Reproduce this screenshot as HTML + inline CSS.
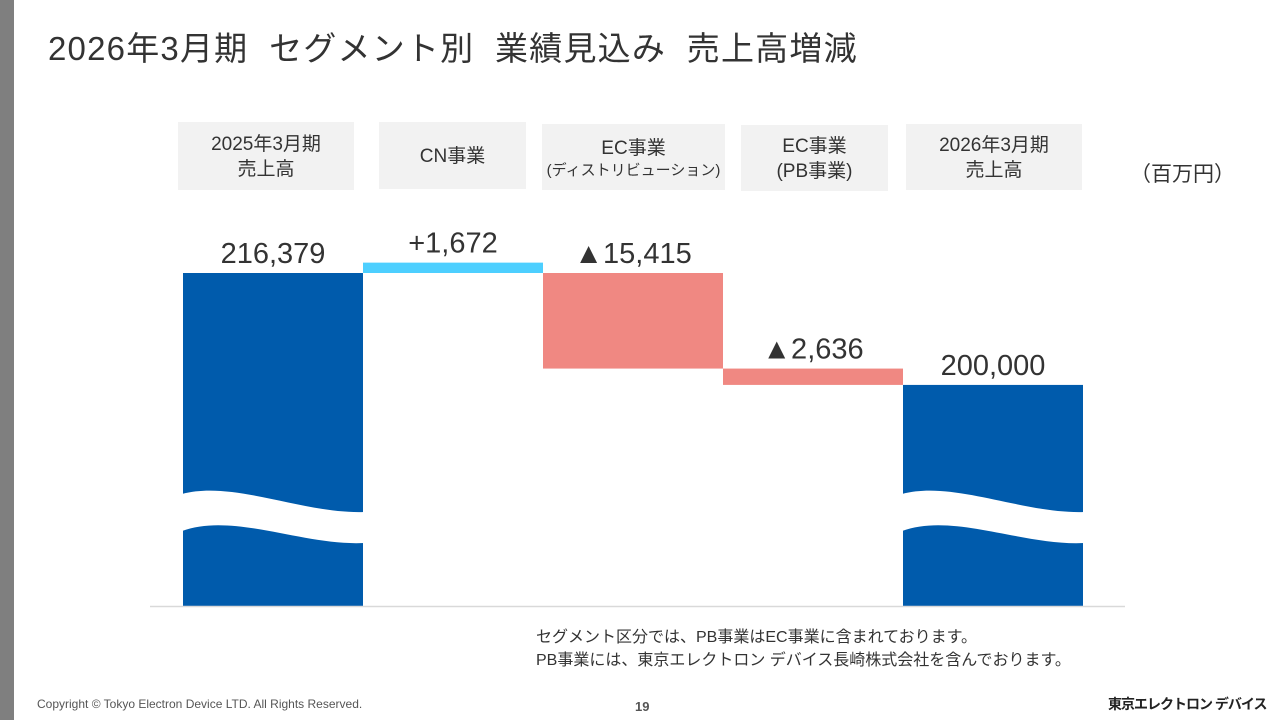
<!DOCTYPE html>
<html><head><meta charset="utf-8"><style>
body{margin:0;width:1280px;height:720px;background:#fff;position:relative;overflow:hidden;font-family:"Liberation Sans","Noto Sans CJK JP",sans-serif;color:#333}
.a{position:absolute}
.hd{position:absolute;background:#f2f2f2;display:flex;flex-direction:column;align-items:center;justify-content:center;font-size:19px;line-height:25px;color:#333;text-align:center;padding-top:2px;box-sizing:border-box}
</style></head><body>
<div class="a" style="left:0;top:0;width:14px;height:720px;background:#7f7f7f"></div>
<div class="a" style="left:48px;top:22px;font-size:33px;letter-spacing:1.2px;white-space:pre">2026年3月期  セグメント別  業績見込み  売上高増減</div>
<div class="hd" style="left:178px;top:122px;width:176px;height:68px">2025年3月期<br>売上高</div>
<div class="hd" style="left:379px;top:122px;width:147px;height:67px">CN事業</div>
<div class="hd" style="left:542px;top:124px;width:183px;height:66px">EC事業<span style="font-size:15px;line-height:20px">(ディストリビューション)</span></div>
<div class="hd" style="left:741px;top:125px;width:147px;height:66px">EC事業<br>(PB事業)</div>
<div class="hd" style="left:906px;top:124px;width:176px;height:66px">2026年3月期<br>売上高</div>
<div class="a" style="left:1130px;top:158px;font-size:21px">（百万円）</div>
<svg class="a" style="left:0;top:0" width="1280" height="720" id="chart"></svg>
<div class="a" style="left:536px;top:626px;font-size:16px;line-height:23px">セグメント区分では、PB事業はEC事業に含まれております。<br>PB事業には、東京エレクトロン デバイス長崎株式会社を含んでおります。</div>
<div class="a" style="left:37px;top:697px;font-size:12px;color:#555">Copyright © Tokyo Electron Device LTD. All Rights Reserved.</div>
<div class="a" style="left:635px;top:699px;font-size:13px;font-weight:bold;color:#555">19</div>
<div class="a" style="left:1108px;top:694px;font-size:14px;font-weight:bold;color:#222;letter-spacing:-1px">東京エレクトロン デバイス</div>
<script>
const categories=["2025年3月期","CN事業","EC事業(ディストリビューション)","EC事業(PB事業)","2026年3月期"];
const deltas=[216379,1672,-15415,-2636,200000];
const labels=["216,379","+1,672","▲15,415","▲2,636","200,000"];
const kinds=["total","delta","delta","delta","total"];
const svg=document.getElementById('chart');const NS='http://www.w3.org/2000/svg';
const y=v=>273-(v-216379)*0.0062, base=606, x0=183, bw=180;
function el(t,a){const e=document.createElementNS(NS,t);for(const k in a)e.setAttribute(k,a[k]);svg.appendChild(e);return e;}
let run=0;
categories.forEach((c,i)=>{
 let top,bot,col;
 if(kinds[i]==="total"){
  if(i===0)run=deltas[i];
  top=y(run);bot=base;col="#005bac";
 } else if(deltas[i]>0){
  top=y(run+deltas[i]);bot=y(run);col="#4dcfff";
 } else {
  const s=run;run+=deltas[i];top=y(s);bot=y(run);col="#f08882";
 }
 const x=x0+i*bw;
 const r=el('rect',{x:x,y:top,width:bw,height:bot-top,fill:col});
 
 
 if(kinds[i]==="total"){
  const w=el('path',{d:`M${x-1} 494 C${x+50} 480 ${x+120} 514 ${x+bw+1} 512 L${x+bw+1} 543 C${x+120} 546 ${x+50} 512 ${x-1} 531 Z`,fill:'#fff'});
  
  
 }
 const t=el('text',{x:x+bw/2,y:top-10,'text-anchor':'middle','font-size':29,fill:'#333'});
 t.textContent=labels[i];
 
 
});
const ax=el('line',{x1:150,x2:1125,y1:606.5,y2:606.5,stroke:'#d9d9d9','stroke-width':1.5});


</script>
</body></html>
